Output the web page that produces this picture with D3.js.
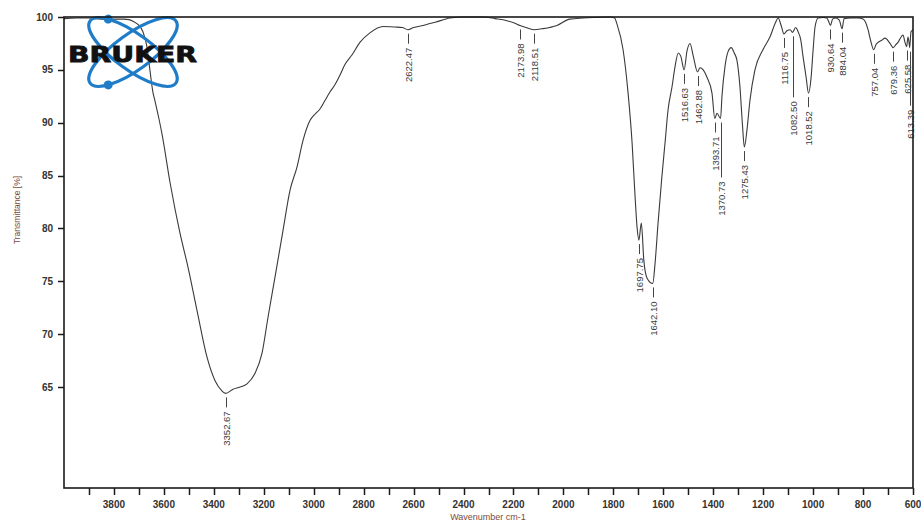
<!DOCTYPE html>
<html><head><meta charset="utf-8">
<script src="https://cdn.jsdelivr.net/npm/d3@7"></script>
<style>
html,body{margin:0;padding:0;background:#fff;overflow:hidden;}
svg{display:block;}
</style></head>
<body>
<script>
// ---- data ----
const wavenumbers = [4000,3950,3900,3880,3850,3800,3760,3740,3724,3704,3684,3668,3656,3644,3636,3620,3608,3575,3535,3503,3467,3427,3395,3370,3352.67,3323,3295,3267,3235,3207,3183,3155,3123,3095,3067,3043,3015,2995,2975,2955,2935,2915,2895,2875,2847,2815,2775,2722,2674,2645,2622.47,2600,2562,2514,2454,2400,2322,2274,2226,2194,2173.98,2150,2118.51,2082,2026,1974,1921,1880,1813,1795,1785,1761,1741,1725,1713,1705,1697.75,1688,1678,1665,1642.10,1633,1621,1606,1593,1581,1565,1553,1540,1530,1516.63,1505,1493,1480,1462.88,1453,1440,1425,1405,1393.71,1385,1370.73,1365,1353,1341,1328,1316,1305,1293,1283,1275.43,1265,1253,1233,1201,1173,1150,1140,1128,1116.75,1105,1092,1082.50,1070,1060,1050,1040,1028,1018.52,1008,1000,992,980,960,945,938,930.64,922,910,895,884.04,876,850,820,800,790,780,770,757.04,748,740,725,712,692,679.36,668,660,645,640,632,625.58,620,616,613.39,608,600];
const transmittance = [99.85,99.9,99.9,99.85,99.8,99.8,99.8,99.75,99.6,99.3,98.6,97.2,95.0,92.9,92.1,90.4,89.0,84.3,79.5,76.3,72.2,67.8,65.6,64.7,64.4,64.8,65.0,65.3,66.3,68.2,71.6,75.4,79.8,83.6,85.8,88.3,90.2,90.8,91.3,92.1,92.9,93.6,94.5,95.5,96.4,97.6,98.5,99.1,99.05,99.0,98.8,99.0,99.2,99.5,99.9,100,100,99.85,99.65,99.4,99.2,99.0,98.8,98.9,99.2,99.8,99.9,99.95,100,99.9,99.3,96.9,92.8,88.1,83.0,80.1,78.9,80.5,77.0,75.3,74.8,76.7,80.5,84.8,88.1,91.2,93.4,95.3,96.6,96.3,95.0,96.8,97.5,96.3,94.8,95.2,95.0,94.3,92.8,90.4,90.9,90.4,92.5,95.3,96.7,97.1,96.6,95.9,93.4,89.8,87.7,89.3,92.1,95.0,96.9,98.1,99.5,99.9,99.2,98.4,98.7,98.8,98.55,99.0,98.6,97.9,96.2,94.3,92.8,94.3,96.9,99.1,99.9,99.95,99.9,99.6,99.2,99.8,99.9,99.7,98.9,99.85,99.9,99.9,99.8,99.5,98.8,97.8,96.9,97.4,97.6,97.8,98.0,97.5,97.1,97.4,97.6,98.2,98.3,97.6,97.2,98.1,97.6,97.1,98.6,98.8];

const peakWavenumbers = [3352.67,2622.47,2173.98,2118.51,1697.75,1642.10,1516.63,1462.88,1393.71,1370.73,1275.43,1116.75,1082.50,1018.52,930.64,884.04,757.04,679.36,625.58,613.39];
const peakLabels = ["3352.67","2622.47","2173.98","2118.51","1697.75","1642.10","1516.63","1462.88","1393.71","1370.73","1275.43","1116.75","1082.50","1018.52","930.64","884.04","757.04","679.36","625.58","613.39"];
const labelLeads = [10,10,10,10,10,10,10,10,10,55,10,10,61,10,10,10,10,10,10,54];

const xTickValues = [3900,3800,3700,3600,3500,3400,3300,3200,3100,3000,2900,2800,2700,2600,2500,2400,2300,2200,2100,2000,1900,1800,1700,1600,1500,1400,1300,1200,1100,1000,900,800,700,600];
const xTickLabels = [3800,3600,3400,3200,3000,2800,2600,2400,2200,2000,1800,1600,1400,1200,1000,800,600];
const yTickValues = [100,95,90,85,80,75,70,65];

// ---- layout ----
const W = 921, H = 522;
const L = 64, R = 913, T = 17, B = 488;
const svg = d3.select("body").append("svg").attr("width", W).attr("height", H);

const x = d3.scaleLinear().domain([4000, 600]).range([L, R]);
const y = d3.scaleLinear().domain([55.45, 100]).range([B, T]);

svg.append("defs").append("clipPath").attr("id","plot")
  .append("rect").attr("x", L).attr("y", T - 1).attr("width", R - L).attr("height", B - T + 1);

// spectrum
const pts = wavenumbers.map((w, i) => [w, transmittance[i]]);
const line = d3.line().x(d => x(d[0])).y(d => y(d[1])).curve(d3.curveMonotoneX);
svg.append("path").datum(pts)
  .attr("clip-path","url(#plot)")
  .attr("d", line).attr("fill","none").attr("stroke","#3a3a3a").attr("stroke-width",1.1);

// peak labels
const tLookup = new Map(wavenumbers.map((w, i) => [w, transmittance[i]]));
const pk = svg.append("g");
peakWavenumbers.forEach((w, i) => {
  const px = Math.round(x(w)) + 0.5;
  const py = y(tLookup.get(w));
  const y0 = py + 4, y1 = y0 + labelLeads[i];
  pk.append("line").attr("x1", px).attr("x2", px).attr("y1", y0).attr("y2", y1)
    .attr("stroke","#444").attr("stroke-width",1);
  pk.append("text")
    .attr("transform", `translate(${px},${y1 + 4}) rotate(-90)`)
    .attr("text-anchor","end").attr("dy","0.35em")
    .attr("font-family","Liberation Sans, Arial, sans-serif")
    .attr("font-size","9.5px").attr("fill","#3a3a3a")
    .text(peakLabels[i]);
});

// logo
const logo = svg.append("g").attr("transform","translate(133,52)");
const blue = "#1e7cc8";
[36, -36].forEach(a => {
  const g = logo.append("g").attr("transform", `rotate(${a})`);
  g.append("ellipse").attr("rx",53).attr("ry",18).attr("fill","none")
    .attr("stroke", blue).attr("stroke-width",3.2);
  const t = a > 0 ? 222 : 138;
  const rad = t * Math.PI / 180;
  g.append("circle").attr("cx", 53*Math.cos(rad)).attr("cy", 18*Math.sin(rad))
    .attr("r",4.5).attr("fill", blue);
});
logo.append("text").attr("x", -65).attr("y", 10)
  .attr("font-family","DejaVu Sans, Arial, sans-serif").attr("font-weight","bold")
  .attr("font-size","21px").attr("fill","#111").attr("stroke","#111").attr("stroke-width",0.8)
  .attr("textLength",129).attr("lengthAdjust","spacingAndGlyphs")
  .text("BRUKER");

// frame
svg.append("rect").attr("x", L).attr("y", T).attr("width", R - L).attr("height", B - T)
  .attr("fill","none").attr("stroke","#1a1a1a").attr("stroke-width",1.6);

// x axis ticks
const gx = svg.append("g");
gx.selectAll("line").data(xTickValues).join("line")
  .attr("x1", d => Math.round(x(d)) + 0.5).attr("x2", d => Math.round(x(d)) + 0.5)
  .attr("y1", B).attr("y2", B + 7).attr("stroke","#1a1a1a").attr("stroke-width",1.5);
gx.selectAll("text").data(xTickLabels).join("text")
  .attr("x", d => x(d)).attr("y", 508).attr("text-anchor","middle")
  .attr("font-family","Liberation Sans, Arial, sans-serif").attr("font-weight","bold")
  .attr("font-size","10px").attr("fill","#333").text(d => d);

// y axis ticks
const gy = svg.append("g");
gy.selectAll("line").data(yTickValues).join("line")
  .attr("x1", L - 6).attr("x2", L)
  .attr("y1", d => Math.round(y(d)) + 0.5).attr("y2", d => Math.round(y(d)) + 0.5)
  .attr("stroke","#1a1a1a").attr("stroke-width",1.5);
gy.selectAll("text").data(yTickValues).join("text")
  .attr("x", 53).attr("y", d => y(d)).attr("dy","0.35em").attr("text-anchor","end")
  .attr("font-family","Liberation Sans, Arial, sans-serif").attr("font-weight","bold")
  .attr("font-size","10px").attr("fill","#333").text(d => d);

// axis titles
svg.append("text").attr("transform","translate(20,210) rotate(-90)")
  .attr("text-anchor","middle")
  .attr("font-family","Liberation Sans, Arial, sans-serif").attr("font-size","8.5px")
  .attr("fill","#7a4a3a").text("Transmittance [%]");
svg.append("text").attr("x", 488).attr("y", 520).attr("text-anchor","middle")
  .attr("font-family","Liberation Sans, Arial, sans-serif").attr("font-size","9px")
  .attr("fill","#7a4a3a").text("Wavenumber cm-1");
</script>
</body></html>
